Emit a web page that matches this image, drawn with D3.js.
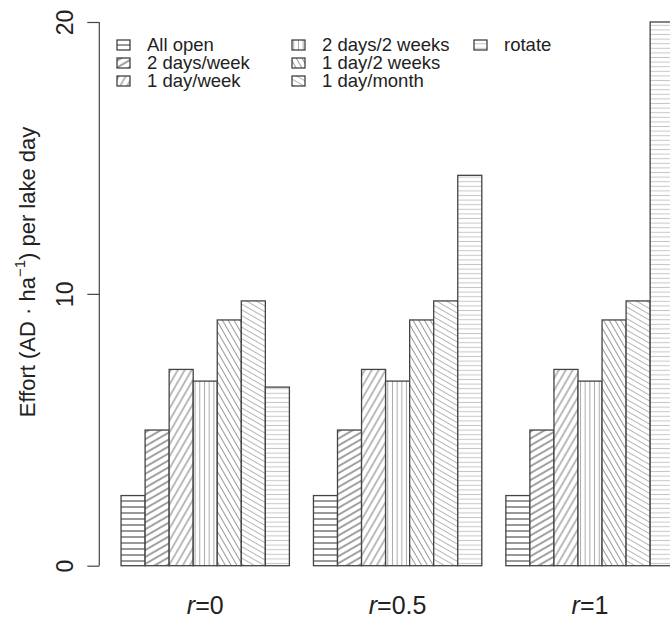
<!DOCTYPE html>
<html>
<head>
<meta charset="utf-8">
<script src="https://cdn.jsdelivr.net/npm/d3@7"></script>
<style>
  body { margin: 0; background: #fff; overflow: hidden; }
  svg { display: block; font-family: "Liberation Sans", Arial, sans-serif; }
</style>
</head>
<body>
<div id="viz"></div>
<script>
const groups = ["0", "0.5", "1"];
const schedules = ["All open", "2 days/week", "1 day/week", "2 days/2 weeks", "1 day/2 weeks", "1 day/month", "rotate"];
const effortR0 = [2.58, 4.99, 7.22, 6.79, 9.04, 9.74, 6.57];
const effortR05 = [2.58, 4.99, 7.22, 6.79, 9.04, 9.74, 14.36];
const effortR1 = [2.58, 4.99, 7.22, 6.79, 9.04, 9.74, 20];
const yTicks = [0, 10, 20];

const seriesByGroup = [effortR0, effortR05, effortR1];

// hatch look for each schedule (angle in svg degrees, line gap, line colour)
const hatch = [
  {angle: 0, gap: 6, color: "#333"},
  {angle: -30, gap: 6, color: "#444"},
  {angle: -60, gap: 6, color: "#777"},
  {angle: 90, gap: 4.7, color: "#aaa"},
  {angle: 60, gap: 5, color: "#999"},
  {angle: 30, gap: 5, color: "#b5b5b5"},
  {angle: 0, gap: 4.6, color: "#c8c8c8"}
];

const width = 670, height = 622;
const bw = 24.05;

const svg = d3.select("#viz")
  .append("svg")
    .attr("width", width)
    .attr("height", height);

const defs = svg.append("defs");
hatch.forEach((h, i) => {
  const p = defs.append("pattern")
    .attr("id", "hatch" + i)
    .attr("patternUnits", "userSpaceOnUse")
    .attr("width", h.gap)
    .attr("height", h.gap)
    .attr("patternTransform", `rotate(${h.angle})`);
  p.append("rect").attr("width", h.gap).attr("height", h.gap).attr("fill", "#fff");
  p.append("line")
    .attr("x1", -1).attr("x2", h.gap + 1)
    .attr("y1", h.gap / 2).attr("y2", h.gap / 2)
    .attr("stroke", h.color)
    .attr("stroke-width", 1);
});

const x0 = d3.scaleBand()
  .domain(groups)
  .range([97, 97 + 24 * bw])
  .padding(0);

const x1 = d3.scaleBand()
  .domain(schedules)
  .range([bw, 8 * bw])
  .padding(0);

const y = d3.scaleLinear()
  .domain([0, 20])
  .range([565.7, 22]);

// y axis
const yAxis = svg.append("g")
  .attr("transform", "translate(99.3,0)")
  .call(d3.axisLeft(y).tickValues(yTicks).tickSize(12).tickPadding(0).tickFormat(d3.format("d")));
yAxis.select(".domain").attr("stroke", "#444").attr("stroke-width", 1.2).attr("d", `M0,${y(0)}V${y(20)}`);
yAxis.selectAll(".tick line").attr("stroke", "#444").attr("stroke-width", 1.2);
yAxis.selectAll(".tick text")
  .attr("x", null).attr("dy", null)
  .attr("text-anchor", "middle")
  .attr("transform", "translate(-26.3,0) rotate(-90)")
  .attr("fill", "#222")
  .style("font-size", "23px")
  .style("font-family", "'Liberation Sans', Arial, sans-serif");

// bars
const barData = [];
groups.forEach((g, gi) => {
  schedules.forEach((s, si) => {
    barData.push({group: g, schedule: s, idx: si, value: seriesByGroup[gi][si]});
  });
});

svg.append("g")
  .selectAll("rect")
  .data(barData)
  .join("rect")
    .attr("x", d => x0(d.group) + x1(d.schedule))
    .attr("y", d => y(d.value))
    .attr("width", x1.bandwidth())
    .attr("height", d => y(0) - y(d.value))
    .attr("fill", d => `url(#hatch${d.idx})`)
    .attr("stroke", "#444")
    .attr("stroke-width", 1.3);

// group labels
const glab = svg.append("g")
  .selectAll("text")
  .data(groups)
  .join("text")
    .attr("x", g => x0(g) + bw + 3.5 * bw)
    .attr("y", 614)
    .attr("text-anchor", "middle")
    .attr("fill", "#222")
    .style("font-size", "25px");
glab.append("tspan").style("font-style", "italic").text("r");
glab.append("tspan").text(g => "=" + g);

// y title
const yTitle = svg.append("text")
  .attr("transform", "translate(35,272) rotate(-90)")
  .attr("text-anchor", "middle")
  .attr("fill", "#222")
  .style("font-size", "22px");
yTitle.append("tspan").text("Effort (AD \u00b7 ha");
yTitle.append("tspan").attr("dy", -10).style("font-size", "15px").text("\u22121");
yTitle.append("tspan").attr("dy", 10).text(") per lake day");

// legend
const colX = [117, 292, 474];
const rowY = [45, 63, 81];
const legend = svg.append("g").attr("class", "legend");
schedules.forEach((s, i) => {
  const cx = colX[Math.floor(i / 3)];
  const cy = rowY[i % 3];
  legend.append("rect")
    .attr("x", cx)
    .attr("y", cy - 5)
    .attr("width", 13)
    .attr("height", 10)
    .attr("fill", `url(#hatch${i})`)
    .attr("stroke", "#333")
    .attr("stroke-width", 1.2);
  legend.append("text")
    .attr("x", cx + 30)
    .attr("y", cy + 6)
    .attr("fill", "#222")
    .style("font-size", "18.5px")
    .text(s);
});
</script>
</body>
</html>
